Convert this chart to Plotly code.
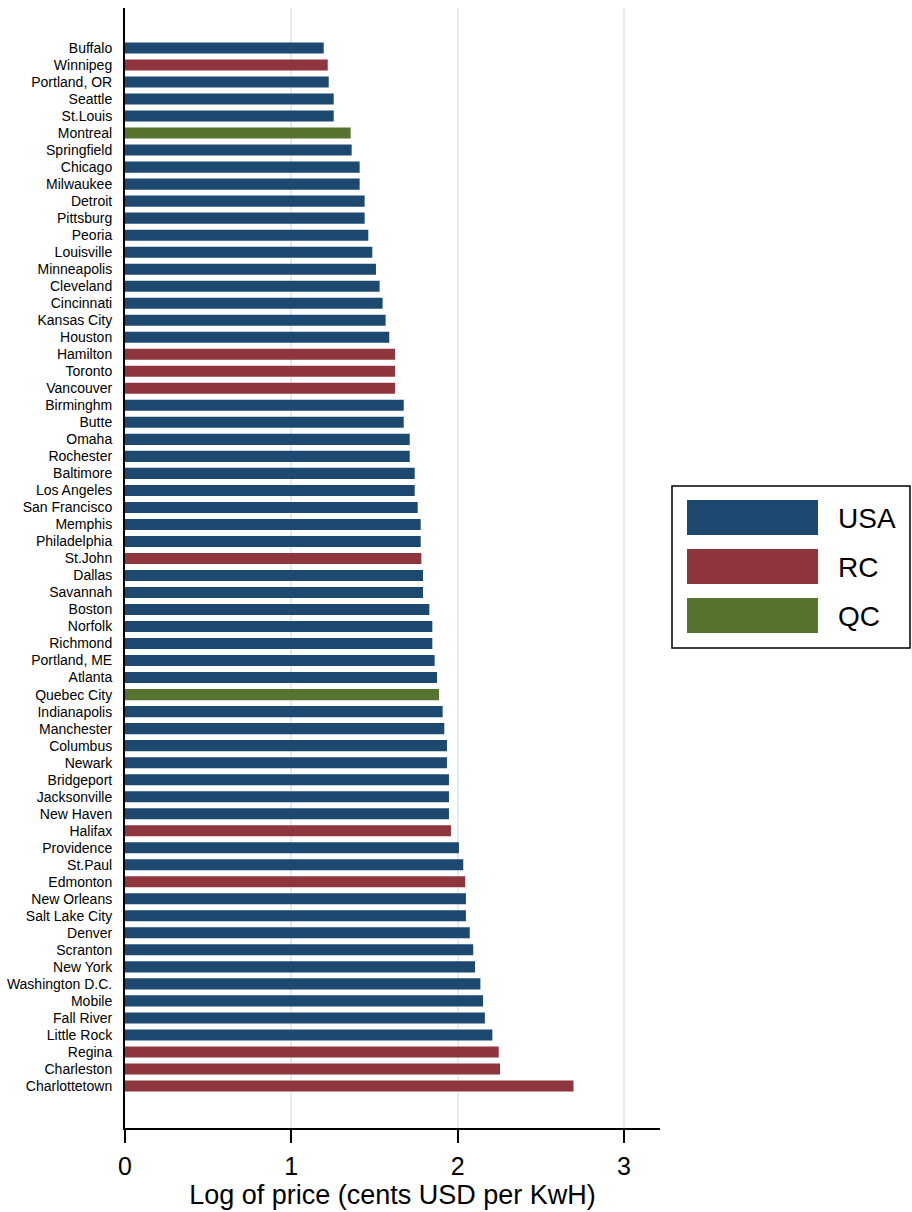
import plotly.graph_objects as go

cities = ["Buffalo", "Winnipeg", "Portland, OR", "Seattle", "St.Louis", "Montreal", "Springfield",
          "Chicago", "Milwaukee", "Detroit", "Pittsburg", "Peoria", "Louisville", "Minneapolis",
          "Cleveland", "Cincinnati", "Kansas City", "Houston", "Hamilton", "Toronto", "Vancouver",
          "Birminghm", "Butte", "Omaha", "Rochester", "Baltimore", "Los Angeles", "San Francisco",
          "Memphis", "Philadelphia", "St.John", "Dallas", "Savannah", "Boston", "Norfolk",
          "Richmond", "Portland, ME", "Atlanta", "Quebec City", "Indianapolis", "Manchester",
          "Columbus", "Newark", "Bridgeport", "Jacksonville", "New Haven", "Halifax", "Providence",
          "St.Paul", "Edmonton", "New Orleans", "Salt Lake City", "Denver", "Scranton", "New York",
          "Washington D.C.", "Mobile", "Fall River", "Little Rock", "Regina", "Charleston",
          "Charlottetown"]

log_price = [1.195, 1.219, 1.225, 1.255, 1.255, 1.357, 1.363,
             1.411, 1.411, 1.441, 1.441, 1.463, 1.487, 1.509,
             1.531, 1.549, 1.567, 1.589, 1.624, 1.624, 1.624,
             1.676, 1.676, 1.712, 1.712, 1.742, 1.742, 1.760,
             1.778, 1.778, 1.782, 1.792, 1.792, 1.830, 1.848,
             1.848, 1.862, 1.876, 1.888, 1.910, 1.920,
             1.936, 1.936, 1.948, 1.948, 1.948, 1.960, 2.008,
             2.034, 2.046, 2.050, 2.050, 2.073, 2.094, 2.105,
             2.137, 2.153, 2.164, 2.209, 2.247, 2.255,
             2.697]

group = ["USA", "RC", "USA", "USA", "USA", "QC", "USA",
         "USA", "USA", "USA", "USA", "USA", "USA", "USA",
         "USA", "USA", "USA", "USA", "RC", "RC", "RC",
         "USA", "USA", "USA", "USA", "USA", "USA", "USA",
         "USA", "USA", "RC", "USA", "USA", "USA", "USA",
         "USA", "USA", "USA", "QC", "USA", "USA",
         "USA", "USA", "USA", "USA", "USA", "RC", "USA",
         "USA", "RC", "USA", "USA", "USA", "USA", "USA",
         "USA", "USA", "USA", "USA", "RC", "RC",
         "RC"]

groups = ["USA", "RC", "QC"]
colors = {"USA": "#1d4870", "RC": "#8f353e", "QC": "#567430"}
x_ticks = [0, 1, 2, 3]

FONT = "Liberation Sans, Arial, sans-serif"

fig = go.Figure()
for g in groups:
    xs = [v for v, gg in zip(log_price, group) if gg == g]
    ys = [c for c, gg in zip(cities, group) if gg == g]
    fig.add_trace(go.Bar(
        x=xs, y=ys, orientation="h", name=g,
        marker=dict(color=colors[g], line=dict(width=0)),
        width=0.65, showlegend=False,
    ))

n = len(cities)
fig.update_layout(
    width=912, height=1212,
    margin=dict(l=125, r=252, t=8, b=84),
    plot_bgcolor="white", paper_bgcolor="white",
    barmode="overlay",
    font=dict(family=FONT, color="black"),
)
fig.update_yaxes(
    type="category", categoryorder="array", categoryarray=cities,
    range=[n - 1 + 2.47, -2.35],
    showgrid=False, ticks="", showline=True, linecolor="black", linewidth=2,
    tickfont=dict(size=14, family=FONT, color="black"),
    ticklabelstandoff=8, zeroline=False,
)
fig.update_xaxes(
    range=[0, 3.217], tickvals=x_ticks, ticktext=[str(t) for t in x_ticks],
    showgrid=True, gridcolor="#e3ecf1", gridwidth=2,
    showline=True, linecolor="black", linewidth=2,
    ticks="outside", ticklen=13, tickwidth=1.5, tickcolor="black",
    tickfont=dict(size=25, family=FONT, color="black"),
    ticklabelstandoff=2,
    zeroline=False,
    title=dict(text="Log of price (cents USD per KwH)", font=dict(size=27, family=FONT, color="black"), standoff=0),
)

# Custom legend (wide swatches as in the reference)
pw, ph = 535.0, 1120.0
def px_x(p):
    return (p - 125) / pw
def px_y(p):
    return (1128 - p) / ph

fig.add_shape(type="rect", xref="paper", yref="paper",
              x0=px_x(672), x1=px_x(910), y0=px_y(648), y1=px_y(486),
              line=dict(color="black", width=1.5), fillcolor="white")
sw_top = [500, 549, 598]
for g, top in zip(groups, sw_top):
    fig.add_shape(type="rect", xref="paper", yref="paper",
                  x0=px_x(687), x1=px_x(818), y0=px_y(top + 35), y1=px_y(top),
                  line=dict(width=0), fillcolor=colors[g])
    fig.add_annotation(xref="paper", yref="paper", x=px_x(836), y=px_y(top + 18),
                       text=g, showarrow=False, xanchor="left", yanchor="middle",
                       font=dict(size=28, family=FONT, color="black"))

fig.write_html("out.html")
